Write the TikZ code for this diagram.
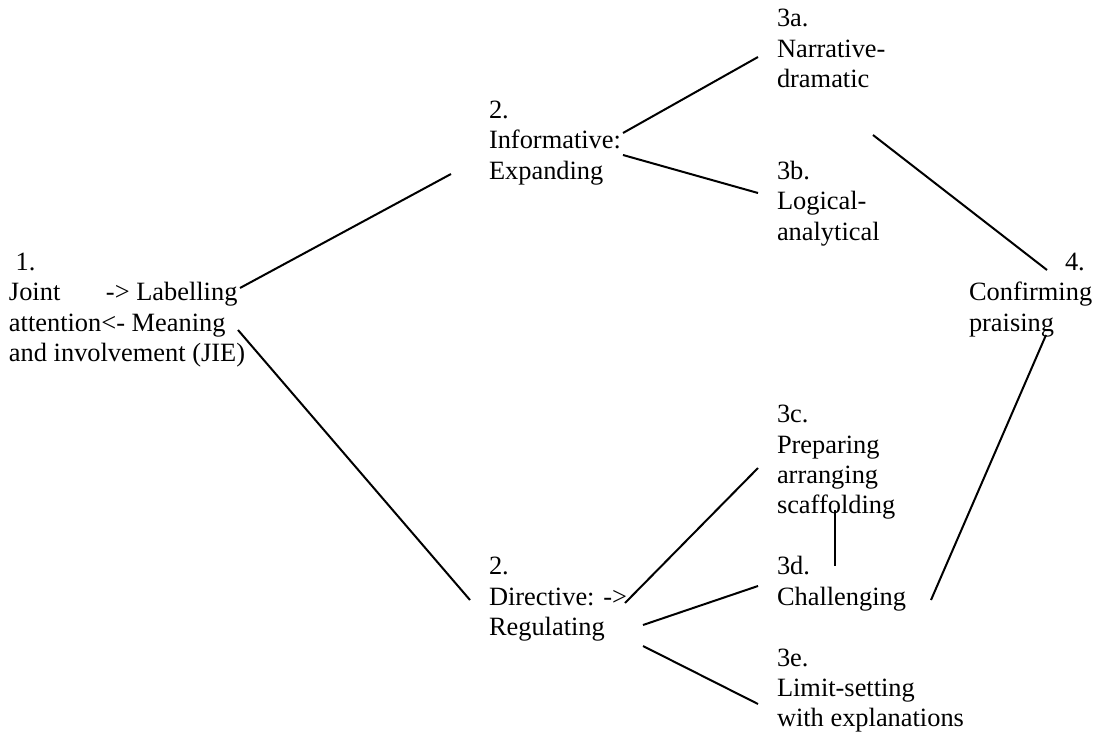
\documentclass[tikz,border=0pt]{standalone}
\usepackage{fontspec}
\setmainfont{Liberation Serif}
% stacked lines, baseline of the box = baseline of the first line
\newcommand\rows[1]{\vtop{\baselineskip=30.43pt\lineskiplimit=-\maxdimen\lineskip=0pt
  \halign{##\hfil\cr#1\crcr}}}
\begin{document}
\begin{tikzpicture}[x=1pt,y=-1pt,
  txt/.style={anchor=base west,inner sep=0pt,outer sep=0pt,
    font=\fontsize{26.4}{30.43}\selectfont},
  link/.style={line width=2pt,line cap=butt}]
\useasboundingbox (0,0) rectangle (1096,736);

% text blocks
\node[txt] (jie)  at (9,270.4)   {\rows{\hspace*{.25em}1.\cr
  \makebox[97pt][l]{Joint}-> Labelling\cr
  attention<- Meaning\cr
  and involvement (JIE)}};
\node[txt] (inf)  at (489,118.3) {\rows{2.\cr Informative:\cr Expanding}};
\node[txt] (nar)  at (777,27)    {\rows{3a.\cr Narrative-\cr dramatic}};
\node[txt] (log)  at (777,179.2) {\rows{3b.\cr Logical-\cr analytical}};
\node[txt] (conf) at (969,270.4) {\rows{\hspace*{96pt}4.\cr Confirming\cr praising}};
\node[txt] (dir)  at (489,574.7) {\rows{2.\cr Directive: ->\cr Regulating}};
\node[txt] (prep) at (777,422.6) {\rows{3c.\cr Preparing\cr arranging\cr scaffolding}};
\node[txt] (chal) at (777,574.7) {\rows{3d.\cr Challenging}};
\node[txt] (lim)  at (777,666)   {\rows{3e.\cr Limit-setting\cr with explanations}};

% connectors
\draw[link] ([shift={(231,17.6)}]jie.base west) -- ([shift={(-38,55.7)}]inf.base west);
\draw[link] ([shift={(229,59.6)}]jie.base west) -- ([shift={(-19,25.3)}]dir.base west);
\draw[link] ([shift={(134,14.7)}]inf.base west) -- ([shift={(-19,30)}]nar.base west);
\draw[link] ([shift={(134,36.7)}]inf.base west) -- ([shift={(-19,13.8)}]log.base west);
\draw[link] ([shift={(96,108)}]nar.base west) -- ([shift={(78,-0.4)}]conf.base west);
\draw[link] ([shift={(136,28.3)}]dir.base west) -- ([shift={(-19,45.4)}]prep.base west);
\draw[link] ([shift={(154,50.3)}]dir.base west) -- ([shift={(-19,11.3)}]chal.base west);
\draw[link] ([shift={(154,71.3)}]dir.base west) -- ([shift={(-19,38)}]lim.base west);
\draw[link] ([shift={(154,25.3)}]chal.base west) -- ([shift={(77,64.6)}]conf.base west);
\draw[link] ([shift={(58,87.4)}]prep.base west) -- ([shift={(58,-8.7)}]chal.base west);
\end{tikzpicture}
\end{document}
